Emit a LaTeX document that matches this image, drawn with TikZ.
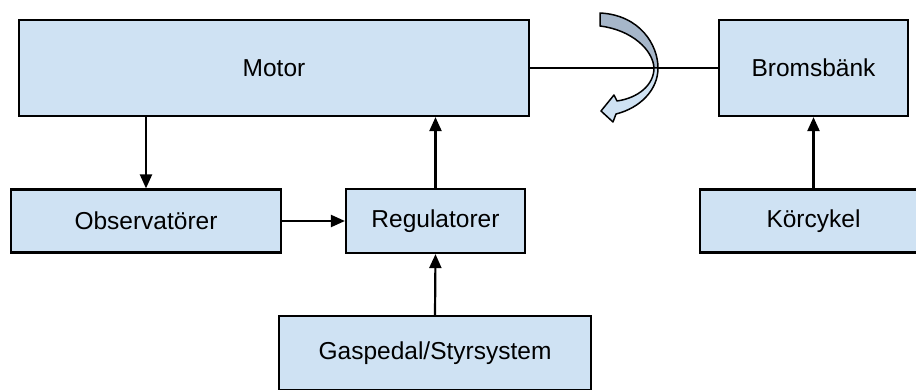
\documentclass[tikz,border=0pt]{standalone}
\usepackage{fontspec}
\setmainfont{Liberation Sans}
\usepackage{tikz}
\usetikzlibrary{arrows.meta, positioning, calc}
\definecolor{blockblue}{RGB}{207, 226, 243}
\definecolor{turnback}{RGB}{166, 182, 201}
\tikzset{
    blockbox/.style={draw=black, fill=blockblue, line width=2.2pt, inner sep=0pt,
        font=\fontsize{24.5}{28}\selectfont},
    flowarrow/.style={line width=2.2pt, -{Triangle[length=14pt, width=12pt]}},
    shaftline/.style={line width=2pt}
}

\begin{document}
\begin{tikzpicture}[x=1pt, y=1pt]
                    % Picture frame
                    \clip (0,0) rectangle (916,389);
                    \fill[white] (0,0) rectangle (916,389);

                    % Top row
                    \node[blockbox, minimum width=510pt, minimum height=96pt] (motor) at (274,321) {Motor};
                    \node[blockbox, minimum width=189pt, minimum height=96pt] (broms) at (813.5,321) {Bromsbänk};

                    % Middle row
                    \node[blockbox, minimum width=270pt, minimum height=63pt] (obs) at (146,168) {Observatörer};
                    \node[blockbox, minimum width=179pt, minimum height=64pt] (reg) at (435.5,168) {Regulatorer};
                    \node[blockbox, minimum width=227pt, minimum height=63pt] (korc) at (813.5,168) {Körcykel};

                    % Bottom row
                    \node[blockbox, minimum width=312pt, minimum height=74pt] (gas) at (435,36) {Gaspedal/Styrsystem};

                    % Connectors
                    \draw[flowarrow] (obs.north |- motor.south) -- (obs.north);
                    \draw[flowarrow] (reg.north) -- (reg.north |- motor.south);
                    \draw[flowarrow] (obs.east) -- (reg.west);
                    \draw[flowarrow] (gas.north) -- (reg.south);
                    \draw[flowarrow] (korc.north) -- (broms.south);
                    \draw[shaftline] (motor.east) -- (broms.west);

                    % Rotation arrow on the shaft
                    \draw[fill=turnback, line width=1.5pt, line join=round]
                        (600,376) .. controls (640,374) and (658,344) .. (658,321)
                        -- (654,321) .. controls (653,339) and (632,359) .. (600,363) -- cycle;
                    \draw[fill=blockblue, line width=1.5pt, line join=round]
                        (658,321) .. controls (658,299) and (640,281) .. (616,275)
                        -- (613,267) -- (601,278) -- (614,294) -- (617,288)
                        .. controls (638,291) and (654,304) .. (654,321) -- cycle;
\end{tikzpicture}
\end{document}
